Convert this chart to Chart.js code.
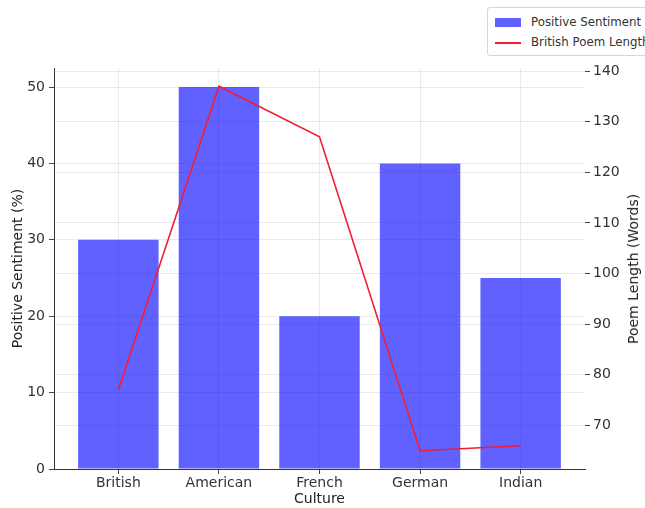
<!DOCTYPE html>
<html>
<head>
<meta charset="utf-8">
<script src="https://cdn.jsdelivr.net/npm/chart.js@4/dist/chart.umd.min.js"></script>
<style>
  html, body { margin: 0; padding: 0; background: #fff; overflow: hidden; }
  #wrap { position: relative; width: 645px; height: 508px; font-family: "DejaVu Sans", sans-serif; }
  #legend {
    position: absolute; left: 487px; top: 7px; width: 175px; height: 47px;
    border: 1px solid #d6d6d6; border-radius: 3px; background: #fff;
    font-size: 11.8px; color: #333;
  }
  .row { position: absolute; left: 7px; white-space: nowrap; line-height: 14px; }
  .sw { display: inline-block; vertical-align: middle; width: 26px; margin-right: 10px; }
  #rtitle {
    position: absolute; left: 633px; top: 269px; white-space: nowrap;
    transform: translate(-50%, -50%) rotate(-90deg); font-size: 14px; color: #222;
  }
</style>
</head>
<body>
<div id="wrap">
  <canvas id="c" width="645" height="508"></canvas>
  <div id="legend">
    <div class="row" style="top:7px"><span class="sw" style="height:9px;background:rgba(0,0,255,0.62)"></span>Positive Sentiment</div>
    <div class="row" style="top:27px"><span class="sw" style="height:2px;background:#f01e32"></span>British Poem Length</div>
  </div>
  <div id="rtitle">Poem Length (Words)</div>
</div>
<script>
const cultures = ['British', 'American', 'French', 'German', 'Indian'];
const sentiment = [30, 50, 20, 40, 25];
const poemLength = [77, 137, 127, 65, 66];

const font = { family: 'DejaVu Sans', size: 14 };
const grid = { color: 'rgba(0,0,0,0.08)', tickColor: '#444', tickLength: 5, offset: false };

new Chart(document.getElementById('c'), {
  type: 'bar',
  data: {
    datasets: [
      {
        type: 'line',
        label: 'British Poem Length',
        data: cultures.map((c, i) => ({ x: i, y: poemLength[i] })),
        yAxisID: 'yRight',
        borderColor: '#f01e32',
        borderWidth: 1.6,
        pointRadius: 0,
        tension: 0,
        order: 0
      },
      {
        label: 'Positive Sentiment',
        data: cultures.map((c, i) => ({ x: i, y: sentiment[i] })),
        yAxisID: 'yLeft',
        backgroundColor: 'rgba(0,0,255,0.62)',
        categoryPercentage: 1,
        barPercentage: 0.8,
        order: 1
      }
    ]
  },
  options: {
    responsive: false,
    animation: false,
    layout: { padding: { top: 68, left: 0, right: 0, bottom: 0 } },
    plugins: { legend: { display: false }, tooltip: { enabled: false } },
    scales: {
      x: {
        type: 'linear',
        offset: false,
        min: -0.64,
        max: 4.64,
        afterBuildTicks: ax => { ax.ticks = cultures.map((c, i) => ({ value: i })); },
        afterFit: ax => { ax.height = 39; },
        ticks: { font, color: '#333', padding: 1, callback: v => cultures[v] },
        grid,
        border: { color: '#333' },
        title: { display: true, text: 'Culture', font, color: '#222', padding: { top: 0, bottom: 0 } }
      },
      yLeft: {
        position: 'left',
        min: 0,
        max: 52.5,
        afterBuildTicks: ax => { ax.ticks = [0, 10, 20, 30, 40, 50].map(v => ({ value: v })); },
        afterFit: ax => { ax.width = 54; },
        ticks: { font, color: '#333', padding: 4 },
        grid,
        border: { color: '#333' },
        title: { display: true, text: 'Positive Sentiment (%)', font, color: '#222', padding: { top: 10, bottom: 2 } }
      },
      yRight: {
        position: 'right',
        min: 61.4,
        max: 140.6,
        afterBuildTicks: ax => { ax.ticks = [70, 80, 90, 100, 110, 120, 130, 140].map(v => ({ value: v })); },
        afterFit: ax => { ax.width = 60; },
        ticks: { font, color: '#333', padding: 3 },
        grid,
        border: { display: false }
      }
    }
  }
});
</script>
</body>
</html>
